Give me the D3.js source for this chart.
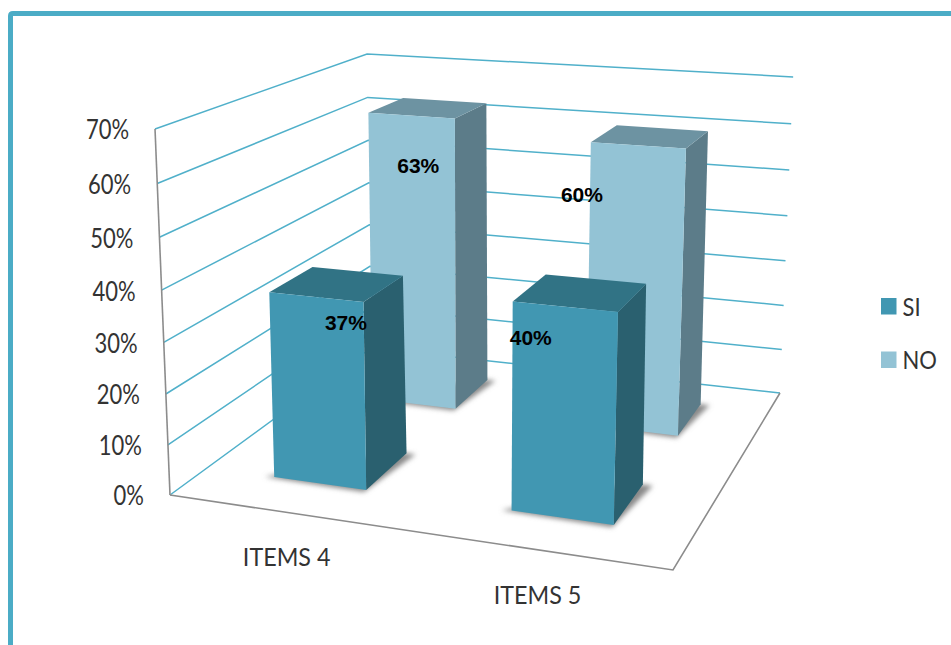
<!DOCTYPE html>
<html><head><meta charset="utf-8">
<script src="https://cdnjs.cloudflare.com/ajax/libs/d3/7.8.5/d3.min.js"></script>
<style>html,body{margin:0;padding:0;background:#fff;overflow:hidden}svg{display:block}</style>
</head><body><svg id="c" width="951" height="645"></svg>
<script>
// Data
const categories = ["ITEMS 4", "ITEMS 5"];
const seriesNames = ["NO", "SI"]; // back to front
const valuesSI = [0.37, 0.40];
const valuesNO = [0.63, 0.60];
const ticks = [0, 0.1, 0.2, 0.3, 0.4, 0.5, 0.6, 0.7];

const svg = d3.select("#c");
const axisFont = "Lato, Carlito, 'Open Sans', sans-serif";

// Frame
svg.append("path").attr("d","M10.5 645V16Q10.5 13.5 13 13.5H951")
  .attr("fill","none").attr("stroke","#4bacc6").attr("stroke-width",5);

// Perspective projection of the floor quad plus a vertical vanishing point
const a=432.9,b=296.37,c=170,d=15.64,e=-57.54,f=495,g=-0.10414,h=0.25707;
const Vx=472,Vy=7874,k=-0.04726,tilt=3.7;
const zScale = d3.scaleLinear().domain([0,0.7]).range([0,1]);
function proj(u,v,val){
  const z=zScale(val);
  const w=g*u+h*v+1+z*k;
  return [(a*u+b*v+c+z*k*Vx)/w,(d*u+e*v+f+z*k*Vy)/w+tilt*u*z];
}
const uBand = d3.scaleBand().domain(categories).range([0,1]);
const vBand = d3.scaleBand().domain(["SI","NO"]).range([0,1]);
const barInsetU=0.15, barW=0.2, barInsetV=0.155, barD=0.211, barTopD=0.2;
const line = d3.line();
const poly = pts => line(pts)+"Z";

const defs = svg.append("defs");
defs.append("filter").attr("id","blur").attr("x","-20%").attr("y","-20%").attr("width","140%").attr("height","140%")
  .append("feGaussianBlur").attr("stdDeviation",2.4);

// Gridlines on left and back walls
const grid = svg.append("g").attr("fill","none").attr("stroke","#50b0ca").attr("stroke-width",1.5);
ticks.forEach(t=>{
  grid.append("path").attr("d",line([proj(0,0,t),proj(0,1,t),proj(1,1,t)]));
});

// Axis lines
const ax = svg.append("g").attr("fill","none").attr("stroke","#8c8c8c").attr("stroke-width",1.6);
ax.append("path").attr("d",line([proj(0,0,0.7),proj(0,0,0)]));
ax.append("path").attr("d",line([proj(0,0,0),proj(1,0,0),proj(1,1,0)]));

// Tick labels
const label = (sel,x,y,sx,anchor)=>sel
  .attr("transform",(n,i)=>`translate(${x(n,i)},${y(n,i)}) scale(${sx},1)`)
  .attr("text-anchor",anchor).attr("dominant-baseline","central")
  .attr("font-family",axisFont).attr("fill","#333");

label(svg.append("g").selectAll("text").data(ticks).join("text"),
  t=>proj(0,0,t)[0]-26, t=>proj(0,0,t)[1], 0.83, "end")
  .attr("font-size",26.5)
  .text(t=>d3.format(".0%")(t));

// Category labels
label(svg.append("g").selectAll("text").data(categories).join("text"),
  n=>proj(uBand(n)+uBand.bandwidth()/2,0,0)[0]+1,
  n=>proj(uBand(n)+uBand.bandwidth()/2,0,0)[1]+44, 0.915, "middle")
  .attr("font-size",25.5)
  .text(n=>n);

// Bars
const palette = {
  SI:{front:"#4197b2",top:"#317385",side:"#2a606f"},
  NO:{front:"#93c3d5",top:"#6d93a2",side:"#5c7c89"}
};
const valueOf = {SI:valuesSI, NO:valuesNO};
const barsG = svg.append("g");
const labelData=[];
seriesNames.forEach(s=>{
  categories.forEach((cat,i)=>{
    const val=valueOf[s][i];
    const u0=uBand(cat)+barInsetU,u1=u0+barW,v0=vBand(s)+barInsetV,v1=v0+barD,vt=v0+barTopD;
    const col=palette[s];
    barsG.append("path").attr("filter","url(#blur)").attr("fill","#8a8a8a")
      .attr("d",poly([proj(u0-0.018,v0-0.006,0),proj(u1,v0-0.012,0),proj(u1+0.02,v1,0),proj(u1-0.02,v1,0)]));
    barsG.append("path").attr("fill",col.side).attr("d",poly([proj(u1,v0,0),proj(u1,v1,0),proj(u1,vt,val),proj(u1,v0,val)]));
    barsG.append("path").attr("fill",col.top).attr("d",poly([proj(u0,v0,val),proj(u1,v0,val),proj(u1,vt,val),proj(u0,vt,val)]));
    barsG.append("path").attr("fill",col.front).attr("d",poly([proj(u0,v0,0),proj(u1,v0,0),proj(u1,v0,val),proj(u0,v0,val)]));
    labelData.push({s,i,val});
  });
});

// Value labels (offset from the front-top of each bar)
const labelOffset = {"SI0":[30,25],"SI1":[-34,31],"NO0":[7,50],"NO1":[-56,49]};
svg.append("g").selectAll("text").data(labelData).join("text")
  .each(function(o){
    const cat=categories[o.i];
    const p=proj(uBand(cat)+barInsetU+barW/2,vBand(o.s)+barInsetV,o.val);
    const off=labelOffset[o.s+o.i];
    d3.select(this).attr("x",p[0]+off[0]).attr("y",p[1]+off[1]);
  })
  .attr("text-anchor","middle").attr("dominant-baseline","central")
  .attr("font-family","'Liberation Sans',Arial,sans-serif").attr("font-weight","bold").attr("font-size",21).attr("fill","#000")
  .text(o=>d3.format(".0%")(o.val));

// Legend
const legend = svg.append("g");
[["SI",298],["NO",351.5]].forEach(([n,y])=>{
  legend.append("rect").attr("x",881).attr("y",y).attr("width",15.5).attr("height",16.5).attr("fill",palette[n].front);
  legend.append("text").attr("transform",`translate(902.5,${y+8}) scale(0.88,1)`).attr("dominant-baseline","central")
    .attr("font-family",axisFont).attr("font-size",25).attr("fill","#333").text(n);
});
</script></body></html>
